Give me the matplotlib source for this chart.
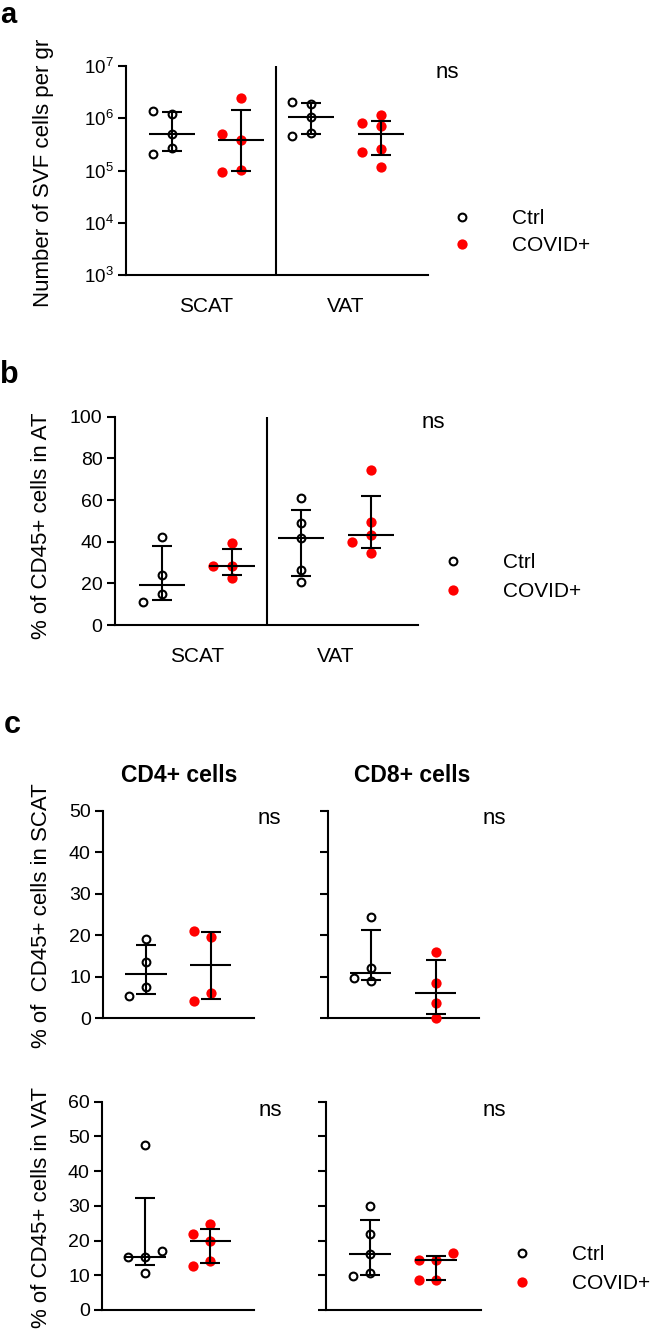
import matplotlib
matplotlib.use("Agg")
import matplotlib.pyplot as plt
from matplotlib.lines import Line2D
import numpy as np

plt.rcParams['font.family'] = ['Liberation Sans', 'DejaVu Sans']
plt.rcParams['mathtext.fontset'] = 'custom'
plt.rcParams['mathtext.rm'] = 'Liberation Sans'
plt.rcParams['mathtext.it'] = 'Liberation Sans:italic'
plt.rcParams['mathtext.bf'] = 'Liberation Sans:bold'

# ---- data ----
tissues = ['SCAT', 'VAT']
groups = ['Ctrl', 'COVID+']

# a: number of SVF cells per gram
svf_scat_ctrl = [4.93e5, 1.2e6, 1.38e6, 2.66e5, 2.07e5]
svf_scat_covid = [3.84e5, 4.93e5, 2.41e6, 1.02e5, 9.25e4]
svf_vat_ctrl = [1.07e6, 1.85e6, 2.02e6, 5.3e5, 4.6e5]
svf_vat_covid = [7.2e5, 8.2e5, 1.15e6, 2.58e5, 2.29e5, 1.18e5]

# b: % of CD45+ cells in AT
cd45_scat_ctrl = [24.0, 42.4, 14.7, 11.2]
cd45_scat_covid = [28.5, 28.5, 39.2, 22.7]
cd45_vat_ctrl = [42.0, 49.2, 61.1, 26.5, 20.8]
cd45_vat_covid = [43.2, 39.7, 49.6, 74.4, 34.4]

# c: % of CD45+ cells, CD4+ / CD8+ in SCAT and VAT
cd4_scat_ctrl = [13.6, 19.1, 7.5, 5.4]
cd4_scat_covid = [19.5, 21.1, 6.0, 4.2]
cd8_scat_ctrl = [12.0, 24.3, 9.6, 9.1]
cd8_scat_covid = [8.6, 3.6, 15.9, 0.15]
cd4_vat_ctrl = [15.4, 15.2, 17.1, 10.8, 47.5]
cd4_vat_covid = [20.0, 21.9, 24.8, 14.1, 12.8]
cd8_vat_ctrl = [16.1, 21.8, 30.1, 10.6, 9.8]
cd8_vat_covid = [14.4, 14.4, 16.5, 8.6, 8.5]

W, H = 650, 1339
fig = plt.figure(figsize=(W / 100, H / 100), dpi=100)


def add_ax(x0, y0, x1, y1):
    return fig.add_axes([x0 / W, 1 - y1 / H, (x1 - x0) / W, (y1 - y0) / H])


def ftext(x, y, s, **kw):
    fig.text(x / W, 1 - y / H, s, **kw)


def style_ax(ax, labelsize, labels=True):
    for s in ['top', 'right']:
        ax.spines[s].set_visible(False)
    for s in ['left', 'bottom']:
        ax.spines[s].set_linewidth(1.5)
    ax.tick_params(axis='y', direction='out', length=6, width=1.5,
                   labelsize=labelsize, pad=3, labelleft=labels)
    ax.tick_params(axis='y', which='minor', length=0)


def swarm_x(ax, xc, vals, step, gap):
    # simple beeswarm in pixel space: keep markers from overlapping
    pts = ax.transData.transform(np.column_stack([np.full(len(vals), xc), vals]))
    med_y = np.median(pts[:, 1])
    order = np.argsort(np.abs(pts[:, 1] - med_y), kind='stable')
    placed = {}
    for i in order:
        px, py = pts[i]
        for k in [0, -1, 1, -2, 2]:
            cx = px + k * step
            if all(np.hypot(cx - qx, py - qy) >= gap for qx, qy in placed.values()):
                break
        placed[i] = (cx, py)
    disp = np.array([placed[i] for i in range(len(vals))])
    return ax.transData.inverted().transform(disp)[:, 0]


ctrl_style = dict(marker='o', ms=5.6, mfc='white', mec='black', mew=1.5)
covid_style = dict(marker='o', ms=7.4, mfc='red', mec='red', mew=0)


def draw_group(ax, xc, vals, covid, step, hw, gap=10.5):
    vals = np.asarray(vals, float)
    med = np.median(vals)
    q1, q3 = np.percentile(vals, [25, 75], method='weibull')
    xs = swarm_x(ax, xc, vals, step, gap)
    st = covid_style if covid else ctrl_style
    ax.plot(xs, vals, ls='none', zorder=3, clip_on=False, **st)
    ax.errorbar([xc], [med], yerr=[[med - q1], [q3 - med]], fmt='none',
                ecolor='black', elinewidth=1.5, capsize=7, capthick=1.5, zorder=4)
    ax.hlines(med, xc - hw, xc + hw, color='black', lw=1.5, zorder=4)


def add_legend(x, y, spacing):
    handles = [Line2D([], [], ls='none', **ctrl_style),
               Line2D([], [], ls='none', **covid_style)]
    fig.legend(handles, groups, loc='center left',
               bbox_to_anchor=(x / W, 1 - y / H), frameon=False,
               borderpad=0, borderaxespad=0, handlelength=1.0,
               handletextpad=1.9, labelspacing=spacing, fontsize=15)


# ---- panel a ----
ax = add_ax(126, 66, 428, 275)
ax.set_yscale('log')
ax.set_ylim(1e3, 1e7)
ax.set_xlim(0.345, 4.674)
style_ax(ax, 13.5)
ax.set_yticks([1e3, 1e4, 1e5, 1e6, 1e7])
ax.set_xticks([1.5, 3.5], tissues)
ax.tick_params(axis='x', length=0, pad=16, labelsize=15)
ax.axvline(2.5, color='black', lw=1.5)
for xc, vals, cv in [(1, svf_scat_ctrl, False), (2, svf_scat_covid, True),
                     (3, svf_vat_ctrl, False), (4, svf_vat_covid, True)]:
    draw_group(ax, xc, vals, cv, 19, 0.33)
ftext(447, 73, 'ns', ha='center', va='center', fontsize=16)
ftext(43, 173, 'Number of SVF cells per gr', rotation=90, ha='center',
      va='center', fontsize=16)
ftext(0, 1, 'a', fontsize=21, fontweight='bold', ha='left', va='top')
add_legend(451.6, 232, 0.4)

# ---- panel b ----
ax = add_ax(115, 416.7, 418.3, 625)
ax.set_ylim(0, 100)
ax.set_xlim(0.319, 4.685)
style_ax(ax, 14)
ax.set_yticks(np.arange(0, 101, 20))
ax.set_xticks([1.5, 3.5], tissues)
ax.tick_params(axis='x', length=0, pad=16, labelsize=15)
ax.axvline(2.5, color='black', lw=1.5)
for xc, vals, cv in [(1, cd45_scat_ctrl, False), (2, cd45_scat_covid, True),
                     (3, cd45_vat_ctrl, False), (4, cd45_vat_covid, True)]:
    draw_group(ax, xc, vals, cv, 19, 0.33)
ftext(433, 423, 'ns', ha='center', va='center', fontsize=16)
ftext(42, 526, '% of CD45+ cells in AT', rotation=90, ha='center',
      va='center', fontsize=16)
ftext(0, 383, 'b', fontsize=22, fontweight='bold', ha='left', va='baseline')
add_legend(442.3, 577, 0.5)

# ---- panel c ----
c_axes = [
    ((103.3, 810.7, 254.3, 1018.3), 50, cd4_scat_ctrl, cd4_scat_covid, True),
    ((327.7, 810.7, 479.3, 1018.3), 50, cd8_scat_ctrl, cd8_scat_covid, False),
    ((102.3, 1101.7, 254.3, 1310), 60, cd4_vat_ctrl, cd4_vat_covid, True),
    ((326, 1101.7, 480.7, 1310), 60, cd8_vat_ctrl, cd8_vat_covid, False),
]
for rect, ymax, ctrl, covid, labels in c_axes:
    ax = add_ax(*rect)
    ax.set_ylim(0, ymax)
    ax.set_xlim(0.34, 2.674)
    style_ax(ax, 14, labels)
    ax.set_yticks(np.arange(0, ymax + 1, 10))
    ax.set_xticks([])
    draw_group(ax, 1, ctrl, False, 17, 0.32)
    draw_group(ax, 2, covid, True, 17, 0.32)

ftext(178.8, 775, 'CD4+ cells', ha='center', va='center', fontsize=16.5,
      fontweight='bold')
ftext(412.5, 775, 'CD8+ cells', ha='center', va='center', fontsize=16.5,
      fontweight='bold')
ftext(269, 818, 'ns', ha='center', va='center', fontsize=16)
ftext(494, 818, 'ns', ha='center', va='center', fontsize=16)
ftext(270, 1110, 'ns', ha='center', va='center', fontsize=16)
ftext(494, 1110, 'ns', ha='center', va='center', fontsize=16)
ftext(42, 916, '% of  CD45+ cells in SCAT', rotation=90, ha='center',
      va='center', fontsize=16)
ftext(41.5, 1208, '% of CD45+ cells in VAT', rotation=90, ha='center',
      va='center', fontsize=16)
ftext(4, 733, 'c', fontsize=22, fontweight='bold', ha='left', va='baseline')
add_legend(511.6, 1269, 0.5)

fig.savefig('out.png', dpi=100)
